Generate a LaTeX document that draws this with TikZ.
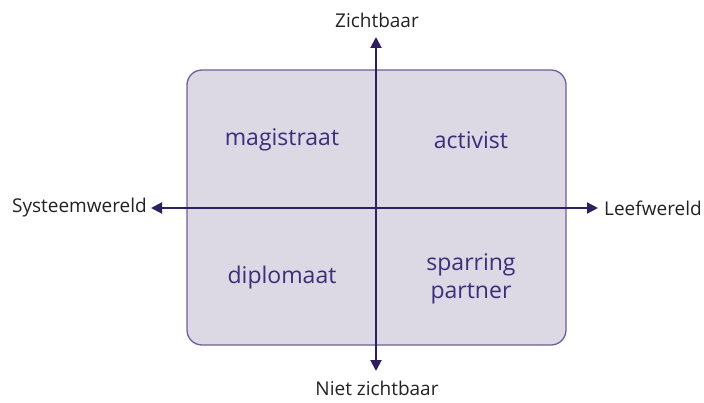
\documentclass[tikz,border=0pt]{standalone}
\usepackage{fontspec}
\setmainfont{Open Sans}
\usetikzlibrary{arrows.meta}
\definecolor{boxfill}{HTML}{DCD8E4}
\definecolor{boxline}{HTML}{6F5F9A}
\definecolor{axis}{HTML}{2E1F5E}
\definecolor{qtext}{HTML}{3D2D7A}
\definecolor{ltext}{HTML}{222222}
\tikzset{
  quad/.style={text=qtext, font=\fontsize{23}{28}\selectfont, align=center},
  axlabel/.style={text=ltext, font=\fontsize{19}{23}\selectfont},
  axarrow/.style={draw=axis, line width=2pt, -{Triangle[length=11pt,width=11pt]}}
}
\begin{document}
\begin{tikzpicture}[x=1pt,y=-1pt]
\useasboundingbox (0,0) rectangle (704,403);
\node[draw=boxline, fill=boxfill, line width=1.3pt, rounded corners=15pt, minimum width=379pt, minimum height=275pt, inner sep=0pt] (box) at (376.5,207.5) {};
\coordinate (c) at (376,208);
\coordinate (top) at (376,37);
\coordinate (bot) at (376,371);
\coordinate (left) at (151,208);
\coordinate (right) at (598,208);
\draw[axarrow] (c) -- (top);
\draw[axarrow] (c) -- (bot);
\draw[axarrow] (c) -- (left);
\draw[axarrow] (c) -- (right);
\node[axlabel] (zicht) at (377,20) {Zichtbaar};
\node[axlabel] (niet) at (377,388) {Niet zichtbaar};
\node[axlabel, anchor=east, inner sep=0pt] (sys) at (147,208) {Systeemwereld};
\node[axlabel, anchor=west, inner sep=0pt] (leef) at (604,208) {Leefwereld};
\node[quad] (mag) at (282,140) {magistraat};
\node[quad] (act) at (471,140) {activist};
\node[quad] (dip) at (282,278) {diplomaat};
\node[quad] (spa) at (471,279) {sparring\\partner};
\end{tikzpicture}
\end{document}
